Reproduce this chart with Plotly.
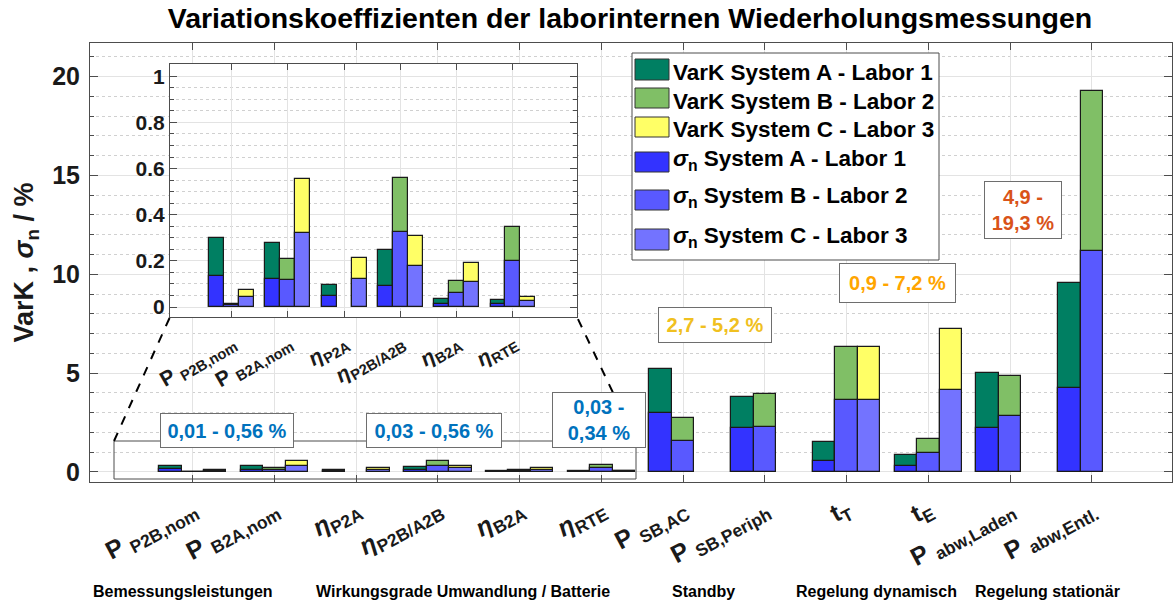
import plotly.graph_objects as go

# x tick labels (12 measured quantities)
categories = ["P <sub>P2B,nom</sub>", "P <sub>B2A,nom</sub>", "<i>η</i><sub>P2A</sub>",
              "<i>η</i><sub>P2B/A2B</sub>", "<i>η</i><sub>B2A</sub>", "<i>η</i><sub>RTE</sub>",
              "P <sub>SB,AC</sub>", "P <sub>SB,Periph</sub>", "t<sub>T</sub>", "t<sub>E</sub>",
              "P <sub>abw,Laden</sub>", "P <sub>abw,Entl.</sub>"]
n_inset = 6  # the first six categories are repeated in the zoomed inset

group_labels = ["Bemessungsleistungen", "Wirkungsgrade Umwandlung / Batterie", "Standby",
                "Regelung dynamisch", "Regelung stationär"]

# VarK (coefficient of variation) in %, per system / lab
vark_a = [0.30, 0.276, 0.097, 0.249, 0.033, 0.030, 5.22, 3.81, 1.52, 0.88, 5.01, 9.58]
vark_b = [0.014, 0.208, None, 0.559, 0.113, 0.345, 2.73, 3.95, 6.30, 1.69, 4.86, 19.29]
vark_c = [0.075, 0.555, 0.211, 0.308, 0.189, 0.043, None, None, 6.30, 7.21, None, None]
# sigma_n in %, per system / lab
sig_a = [0.133, 0.121, 0.046, 0.091, 0.012, 0.012, 3.00, 2.21, 0.56, 0.29, 2.20, 4.27]
sig_b = [0.008, 0.118, None, 0.324, 0.061, 0.199, 1.55, 2.26, 3.66, 0.98, 2.82, 11.17]
sig_c = [0.043, 0.321, 0.121, 0.178, 0.107, 0.026, None, None, 3.66, 4.17, None, None]

series_names = ["VarK System A - Labor 1", "VarK System B - Labor 2", "VarK System C - Labor 3",
                "<i>σ</i><sub>n</sub> System A - Labor 1", "<i>σ</i><sub>n</sub> System B - Labor 2",
                "<i>σ</i><sub>n</sub> System C - Labor 3"]
series_colors = ["#007F62", "#80BF66", "#FFFF66", "#3333FF", "#5959FF", "#7373FF"]
series_values = [vark_a, vark_b, vark_c, sig_a, sig_b, sig_c]

# range boxes: text, colour
range_texts = ["0,01 - 0,56 %", "0,03 - 0,56 %", "0,03 -<br>0,34 %",
               "2,7 - 5,2 %", "0,9 - 7,2 %", "4,9 -<br>19,3 %"]
range_colors = ["#0072BD", "#0072BD", "#0072BD", "#F0C020", "#FFA500", "#D95319"]

W, H = 1174, 601
L, R, T, B = 90, 1172, 43, 482
FONT = "Liberation Sans"


def px(x):
    return (x - L) / (R - L)


def py(y):
    return (B - y) / (B - T)


fig = go.Figure()

# one loop per axis pair: main chart and inset
for xa, ya, w, n in [("x", "y", 0.275, len(categories)), ("x2", "y2", 0.266, n_inset)]:
    for k in range(6):
        offset = (-1.5 + (k % 3)) * w
        fig.add_trace(go.Bar(
            x=list(range(n)), y=series_values[k][:n], width=w, offset=offset,
            marker=dict(color=series_colors[k], line=dict(color="#1a1a1a", width=1.2)),
            xaxis=xa, yaxis=ya, showlegend=False, name=series_names[k]))

axis_common = dict(showline=True, linecolor="#4d4d4d", linewidth=1, mirror="ticks",
                   ticks="inside", tickcolor="#4d4d4d", zeroline=False)

fig.update_layout(
    width=W, height=H, barmode="overlay", bargap=0,
    margin=dict(l=L, r=W - R, t=T, b=H - B, autoexpand=False),
    paper_bgcolor="white", plot_bgcolor="white",
    font=dict(family=FONT, color="#1a1a1a"),
    title=dict(text="<b>Variationskoeffizienten der laborinternen Wiederholungsmessungen</b>",
               x=630 / W, xanchor="center", y=1 - 18 / H, yanchor="middle",
               font=dict(size=28.5, color="black")),
    xaxis=dict(domain=[0, 1], range=[-1.257, 11.98], tickmode="array",
               tickvals=list(range(len(categories))), ticktext=categories,
               tickangle=-28, tickfont=dict(size=25, weight="bold"), ticklen=7,
               ticklabelstandoff=2,
               showgrid=True, gridcolor="#e3e3e3", **axis_common),
    yaxis=dict(domain=[0, 1], range=[-0.51, 21.7], tickvals=[0, 5, 10, 15, 20],
               tickfont=dict(size=25, weight="bold"), ticklen=8, ticklabelstandoff=4,
               showgrid=True, gridcolor="#e3e3e3",
               minor=dict(dtick=1, ticks="inside", ticklen=4, tickcolor="#4d4d4d",
                          showgrid=True, gridcolor="#d0d0d0", griddash="dot"),
               title=dict(text="<b>VarK , <i>σ</i><sub>n</sub> / %</b>", font=dict(size=27),
                          standoff=10),
               **axis_common),
    xaxis2=dict(domain=[px(170), px(577)], anchor="y2", range=[-1.096, 6.138], tickmode="array",
                tickvals=list(range(n_inset)), ticktext=categories[:n_inset],
                tickangle=-30, tickfont=dict(size=21, weight="bold"), ticklen=6,
                ticklabelstandoff=4,
                showgrid=True, gridcolor="#e3e3e3", **axis_common),
    yaxis2=dict(domain=[py(317), py(64)], anchor="x2", range=[-0.043, 1.053],
                tickvals=[0, 0.2, 0.4, 0.6, 0.8, 1], ticktext=["0", "0.2", "0.4", "0.6", "0.8", "1"],
                tickfont=dict(size=21, weight="bold"), ticklen=7,
                showgrid=True, gridcolor="#e3e3e3",
                minor=dict(dtick=0.05, ticks="inside", ticklen=4, tickcolor="#4d4d4d",
                           showgrid=True, gridcolor="#d0d0d0", griddash="dot"),
                **axis_common),
)

shapes = []
# zoom rectangle in the main chart and dashed connectors to the inset
shapes.append(dict(type="rect", xref="paper", yref="paper", x0=px(114), x1=px(636),
                   y0=py(479), y1=py(441), line=dict(color="#4d4d4d", width=1)))
shapes.append(dict(type="line", xref="paper", yref="paper", x0=px(114), y0=py(441),
                   x1=px(170), y1=py(317), line=dict(color="black", width=2, dash="dash")))
shapes.append(dict(type="line", xref="paper", yref="paper", x0=px(636), y0=py(441),
                   x1=px(577), y1=py(317), line=dict(color="black", width=2, dash="dash")))

# hand drawn legend box
shapes.append(dict(type="rect", xref="paper", yref="paper", x0=px(632), x1=px(939),
                   y0=py(260), y1=py(53), fillcolor="white", line=dict(color="#4d4d4d", width=1),
                   layer="above"))
legend_rows = [(59, 80, 72), (88, 108, 101), (117, 137, 129),
               (152, 172, 160), (190, 210, 197), (229, 250, 237)]
annotations = []
for k, (y0, y1, yc) in enumerate(legend_rows):
    shapes.append(dict(type="rect", xref="paper", yref="paper", x0=px(635), x1=px(669),
                       y0=py(y1), y1=py(y0), fillcolor=series_colors[k],
                       line=dict(color="#333333", width=1), layer="above"))
    annotations.append(dict(xref="paper", yref="paper", x=px(671), y=py(yc), xanchor="left",
                            yanchor="middle", showarrow=False, text="<b>" + series_names[k] + "</b>",
                            font=dict(size=22.5, color="black")))

# range boxes (x0, x1, y0, y1 in pixels)
range_boxes = [(160, 294, 413, 448), (366, 502, 413, 448), (552, 646, 392, 448),
               (658, 772, 307, 343), (839, 956, 263, 303), (984, 1062, 181, 239)]
for (x0, x1, y0, y1), txt, col in zip(range_boxes, range_texts, range_colors):
    annotations.append(dict(xref="paper", yref="paper", x=px((x0 + x1) / 2), y=py((y0 + y1) / 2),
                            xanchor="center", yanchor="middle", showarrow=False,
                            text="<b>" + txt + "</b>", font=dict(size=20, color=col),
                            width=x1 - x0 - 2, height=y1 - y0 - 2, borderpad=0,
                            bgcolor="white", bordercolor="#6e6e6e", borderwidth=1))

# group captions under the axis
group_x = [183, 463, 703, 876, 1047]
for gx, txt in zip(group_x, group_labels):
    annotations.append(dict(xref="paper", yref="paper", x=px(gx), y=py(591), xanchor="center",
                            yanchor="middle", showarrow=False, text="<b>" + txt + "</b>",
                            font=dict(size=16, color="black")))

fig.update_layout(shapes=shapes, annotations=annotations)
fig.write_html("out.html", config={"displayModeBar": False},
               post_script="document.body.style.margin='0px';")
